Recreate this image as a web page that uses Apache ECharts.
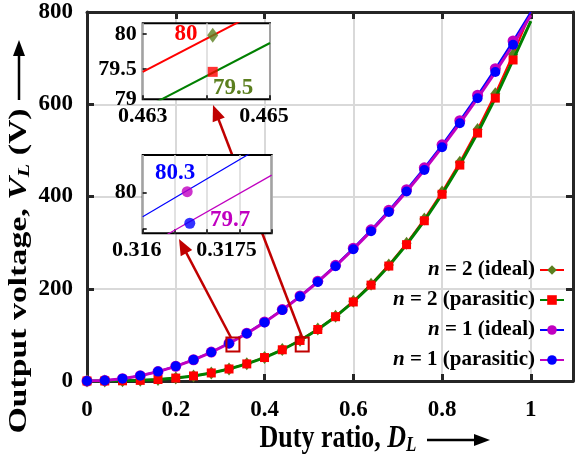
<!DOCTYPE html>
<html><head><meta charset="utf-8">
<script src="https://cdn.jsdelivr.net/npm/echarts@6/dist/echarts.min.js"></script>
<style>html,body{margin:0;padding:0;background:#fff}#c{width:576px;height:459px}</style>
</head><body><div id="c"></div>
<script>
// ---- data ----
const duty = [0,0.04,0.08,0.12,0.16,0.2,0.24,0.28,0.32,0.36,0.4,0.44,0.48,0.52,0.56,0.6,0.64,0.68,0.72,0.76,0.8,0.84,0.88,0.92,0.96,1];
const n2Ideal = [0,0.05,0.41,1.38,3.28,6.4,11.06,17.56,26.21,37.32,51.2,68.15,88.47,112.49,140.49,172.8,209.72,251.55,298.6,351.18,409.6,474.16,545.18,622.95,707.79,800];
const n2Parasitic = [0,0.05,0.41,1.37,3.26,6.36,10.99,17.45,26.04,37.07,50.85,67.7,87.9,111.7,139.4,171.4,207.9,249.2,295.6,347.4,404.8,468.1,537.5,613.3,696.0,780];
const n1Ideal = [0,1.28,5.12,11.52,20.48,32,46.08,62.72,81.92,103.68,128,154.88,184.32,216.32,250.88,288,327.68,369.92,414.72,462.08,512,564.48,619.52,677.12,737.28,800];
const n1Parasitic = [0,1.27,5.09,11.45,20.36,31.8,45.8,62.3,81.4,103.0,127.1,153.8,183.0,214.7,248.9,285.6,324.9,366.6,410.9,457.6,506.9,558.7,613.0,669.8,729.1,793];
const seriesNames = ['n = 2 (ideal)','n = 2 (parasitic)','n = 1 (ideal)','n = 1 (parasitic)'];

// inset 1 (n = 2 near 80 V)
const inset1D = [0.463, 0.465];
const inset1Ideal = [79.46, 80.40];
const inset1Parasitic = [78.93, 79.87];
const inset1MarkD = [0.4641];
const inset1MarkIdeal = [79.98];
const inset1MarkParasitic = [79.46];
// inset 2 (n = 1 near 80 V)
const inset2D = [0.316, 0.318];
const inset2Ideal = [79.66, 80.72];
const inset2Parasitic = [79.22, 80.24];
const inset2MarkIdeal = [[0.31669, 80.01]];
const inset2MarkParasitic = [[0.31673, 79.57]];
// zoom boxes in main-chart data coordinates
const boxCenters = [[0.3288, 79.1],[0.4849, 79.1]];

// ---- styles ----
const FF = '"Liberation Serif","Times New Roman",serif';
const RED = '#ff0000', GREEN = '#008000', OLIVE = '#5b7f1f', BLUE = '#0000ff', MAG = '#c000c0', DRED = '#c00000';
const FRAME = '#262626', GRID = '#d9d9d9';

const chart = echarts.init(document.getElementById('c'), null, {renderer:'canvas'});

function pts(ys){ return duty.map((d,i)=> i===duty.length-1 ? {value:[d,ys[i]], symbol:'none'} : [d, ys[i]]); }
function pairs(xs, ys){ return xs.map((x,i)=>[x, ys[i]]); }

const lblMain = {fontFamily:FF, fontWeight:'bold', fontSize:23, color:'#000'};
const lblInset = {fontFamily:FF, fontWeight:'bold', fontSize:22, color:'#000'};
const shiftRich = {
  a:{fontFamily:FF, fontWeight:'bold', fontSize:22, color:'#000', padding:[0,12,0,0]},
  b:{fontFamily:FF, fontWeight:'bold', fontSize:22, color:'#000', padding:[0,26,0,0]}
};

const option = {
  animation:false,
  backgroundColor:'#fff',
  grid:[
    {left:87, top:12, right:3, bottom:78, show:false},
    {left:142.7, top:23.3, width:127.3, height:76, show:true, backgroundColor:'#fff', borderColor:'#000', borderWidth:2, z:10},
    {left:142.7, top:155, width:129, height:78.3, show:true, backgroundColor:'#fff', borderColor:'#000', borderWidth:2, z:10}
  ],
  xAxis:[
    {gridIndex:0, type:'value', min:0, max:1.095, interval:0.2,
      axisLine:{show:true, onZero:false, lineStyle:{color:FRAME, width:3}},
      axisTick:{show:true, inside:true, length:7, lineStyle:{color:FRAME, width:3}},
      axisLabel:Object.assign({margin:18, formatter:v=> v>1.001 ? '' : String(+v.toFixed(1))}, lblMain),
      splitLine:{show:true, lineStyle:{color:GRID, width:2}}},
    {gridIndex:0, type:'value', position:'top', min:0, max:1.095, interval:0.2,
      axisLine:{show:true, onZero:false, lineStyle:{color:FRAME, width:3}},
      axisTick:{show:true, inside:true, length:7, lineStyle:{color:FRAME, width:3}},
      axisLabel:{show:false}, splitLine:{show:false}},
    {gridIndex:1, type:'value', min:0.463, max:0.465, interval:0.001, z:11,
      axisLine:{show:false},
      axisTick:{show:true, inside:true, length:4, lineStyle:{color:'#000', width:1.5}},
      axisLabel:Object.assign({margin:6, rich:shiftRich,
        formatter:v=> Math.abs(v-0.464)<1e-7 ? '' : (Math.abs(v-0.465)<1e-7 ? '{a|0.465}' : v.toFixed(3))}, lblInset),
      splitLine:{show:true, lineStyle:{color:GRID, width:1.5}}},
    {gridIndex:2, type:'value', min:0.316, max:0.318, interval:0.0005, z:11,
      axisLine:{show:false},
      axisTick:{show:true, inside:true, length:4, lineStyle:{color:'#000', width:1.5}},
      axisLabel:Object.assign({margin:6, rich:shiftRich,
        formatter:v=> (Math.abs(v-0.316)<1e-7 ? '{a|0.316}' : (Math.abs(v-0.3175)<1e-7 ? '{b|0.3175}' : ''))}, lblInset),
      splitLine:{show:true, lineStyle:{color:GRID, width:1.5}}}
  ],
  yAxis:[
    {gridIndex:0, type:'value', min:0, max:800, interval:200,
      axisLine:{show:true, onZero:false, lineStyle:{color:FRAME, width:3}},
      axisTick:{show:true, inside:true, length:7, lineStyle:{color:FRAME, width:3}},
      axisLabel:Object.assign({margin:14}, lblMain),
      splitLine:{show:true, lineStyle:{color:GRID, width:2}}},
    {gridIndex:0, type:'value', position:'right', min:0, max:800, interval:200,
      axisLine:{show:true, onZero:false, lineStyle:{color:FRAME, width:3}},
      axisTick:{show:true, inside:true, length:7, lineStyle:{color:FRAME, width:3}},
      axisLabel:{show:false}, splitLine:{show:false}},
    {gridIndex:1, type:'value', min:79.07, max:80.15, z:11,
      axisLine:{show:false},
      axisTick:{show:true, inside:true, length:4, customValues:[79.5,80], lineStyle:{color:'#000', width:1.5}},
      axisLabel:Object.assign({margin:6, customValues:[79.07,79.5,80], formatter:v=> v<79.2 ? '79' : (v>79.9 ? '80' : '79.5')}, lblInset),
      splitLine:{show:false}},
    {gridIndex:2, type:'value', min:79.43, max:80.52, z:11,
      axisLine:{show:false},
      axisTick:{show:true, inside:true, length:4, customValues:[79.5,80], lineStyle:{color:'#000', width:1.5}},
      axisLabel:Object.assign({margin:6, customValues:[80], formatter:v=>'80'}, lblInset),
      splitLine:{show:false}}
  ],
  legend:{
    data:seriesNames, orient:'vertical', right:6, top:254, align:'right',
    itemWidth:24, itemHeight:12, itemGap:8,
    textStyle:{fontFamily:FF, fontWeight:'bold', fontSize:21, lineHeight:22, color:'#000',
      rich:{i:{fontFamily:FF, fontWeight:'bold', fontStyle:'italic', fontSize:21, lineHeight:22, color:'#000'}}},
    formatter:name=> '{i|n}' + name.slice(1)
  },
  series:[
    {name:seriesNames[0], type:'line', xAxisIndex:0, yAxisIndex:0, data:pts(n2Ideal), z:3,
      symbol:'diamond', symbolSize:[10,13], showAllSymbol:true,
      itemStyle:{color:OLIVE}, lineStyle:{color:RED, width:2}},
    {name:seriesNames[1], type:'line', xAxisIndex:0, yAxisIndex:0, data:pts(n2Parasitic), z:4,
      symbol:'rect', symbolSize:9, showAllSymbol:true,
      itemStyle:{color:RED}, lineStyle:{color:GREEN, width:3}},
    {name:seriesNames[2], type:'line', xAxisIndex:0, yAxisIndex:0, data:pts(n1Ideal), z:3,
      symbol:'circle', symbolSize:11, showAllSymbol:true,
      itemStyle:{color:MAG}, lineStyle:{color:BLUE, width:2}},
    {name:seriesNames[3], type:'line', xAxisIndex:0, yAxisIndex:0, data:pts(n1Parasitic), z:4,
      symbol:'circle', symbolSize:10, showAllSymbol:true,
      itemStyle:{color:BLUE}, lineStyle:{color:MAG, width:3}},
    // inset 1
    {type:'line', xAxisIndex:2, yAxisIndex:2, data:pairs(inset1D, inset1Ideal), z:11, symbol:'none',
      lineStyle:{color:RED, width:2}, silent:true,
      markLine:{silent:true, symbol:'none', label:{show:false}, lineStyle:{color:GRID, width:1.5, type:'solid'}, data:[{yAxis:79.5},{yAxis:80}]}},
    {type:'line', xAxisIndex:2, yAxisIndex:2, data:pairs(inset1D, inset1Parasitic), z:12, symbol:'none',
      lineStyle:{color:GREEN, width:2}, silent:true},
    {type:'scatter', xAxisIndex:2, yAxisIndex:2, data:pairs(inset1MarkD, inset1MarkIdeal), z:13,
      symbol:'diamond', symbolSize:[11,15], itemStyle:{color:OLIVE}, silent:true},
    {type:'scatter', xAxisIndex:2, yAxisIndex:2, data:pairs(inset1MarkD, inset1MarkParasitic), z:13,
      symbol:'rect', symbolSize:10, itemStyle:{color:RED}, silent:true},
    // inset 2
    {type:'line', xAxisIndex:3, yAxisIndex:3, data:pairs(inset2D, inset2Ideal), z:11, symbol:'none',
      lineStyle:{color:BLUE, width:1.2}, silent:true,
      markLine:{silent:true, symbol:'none', label:{show:false}, lineStyle:{color:GRID, width:1.5, type:'solid'}, data:[{yAxis:79.5},{yAxis:80}]}},
    {type:'line', xAxisIndex:3, yAxisIndex:3, data:pairs(inset2D, inset2Parasitic), z:12, symbol:'none',
      lineStyle:{color:MAG, width:1.2}, silent:true},
    {type:'scatter', xAxisIndex:3, yAxisIndex:3, data:inset2MarkIdeal, z:13,
      symbol:'circle', symbolSize:11, itemStyle:{color:MAG}, silent:true},
    {type:'scatter', xAxisIndex:3, yAxisIndex:3, data:inset2MarkParasitic, z:13,
      symbol:'circle', symbolSize:11, itemStyle:{color:BLUE}, silent:true}
  ]
};
chart.setOption(option);

// ---- annotations ----
function arrow(x1,y1,x2,y2,color,w,headL,headW,z){
  const dx=x2-x1, dy=y2-y1, L=Math.hypot(dx,dy), ux=dx/L, uy=dy/L;
  const bx=x2-ux*headL, by=y2-uy*headL;
  return [
    {type:'line', z:z, silent:true, shape:{x1:x1,y1:y1,x2:bx+ux*2,y2:by+uy*2}, style:{stroke:color, lineWidth:w}},
    {type:'polygon', z:z, silent:true, shape:{points:[[x2,y2],[bx-uy*headW/2,by+ux*headW/2],[bx+uy*headW/2,by-ux*headW/2]]}, style:{fill:color}}
  ];
}
const g = [];
boxCenters.forEach(c=>{
  const p = chart.convertToPixel({xAxisIndex:0, yAxisIndex:0}, c);
  g.push({type:'rect', z:6, silent:true, shape:{x:p[0]-6.5, y:p[1]-7, width:13, height:14}, style:{fill:'none', stroke:DRED, lineWidth:2}});
});
const b1 = chart.convertToPixel({xAxisIndex:0, yAxisIndex:0}, boxCenters[0]);
const b2 = chart.convertToPixel({xAxisIndex:0, yAxisIndex:0}, boxCenters[1]);
g.push(...arrow(b1[0]-2, b1[1]-7, 179, 239, DRED, 2.5, 16, 13, 5));
g.push(...arrow(b2[0], b2[1]-7, 213, 105, DRED, 2.5, 16, 13, 5));
// axis titles
const titleRich = {
  n:{fontFamily:FF, fontWeight:'bold', fontSize:26, lineHeight:28},
  i:{fontFamily:FF, fontWeight:'bold', fontStyle:'italic', fontSize:26, lineHeight:28},
  s:{fontFamily:FF, fontWeight:'bold', fontStyle:'italic', fontSize:17, lineHeight:17, verticalAlign:'bottom', padding:[8,0,0,0]}
};
g.push({type:'text', z:20, silent:true, x:338, y:439, scaleY:1.2,
  style:{text:'{n|Duty ratio, }{i|D}{s|L}', textAlign:'center', textVerticalAlign:'middle', fill:'#000', rich:titleRich}});
g.push(...arrow(427, 440, 490, 440, '#000', 2.5, 16, 12, 20));
g.push({type:'text', z:20, silent:true, x:19, y:271, rotation:Math.PI/2, scaleX:1.3,
  style:{text:'{n|Output voltage, }{i|V}{s|L}{n| (V)}', textAlign:'center', textVerticalAlign:'middle', fill:'#000', rich:titleRich}});
g.push(...arrow(19, 100, 19, 40, '#000', 2.5, 16, 12, 20));
// inset value annotations
const ann = [['80',186,34,RED],['79.5',233,88,OLIVE],['80.3',175,173,BLUE],['79.7',230,220,MAG]];
ann.forEach(a=>g.push({type:'text', z:20, silent:true, x:a[1], y:a[2],
  style:{text:a[0], fill:a[3], font:'bold 23px '+FF, textAlign:'center', textVerticalAlign:'middle'}}));
chart.setOption({graphic:g});
</script></body></html>
